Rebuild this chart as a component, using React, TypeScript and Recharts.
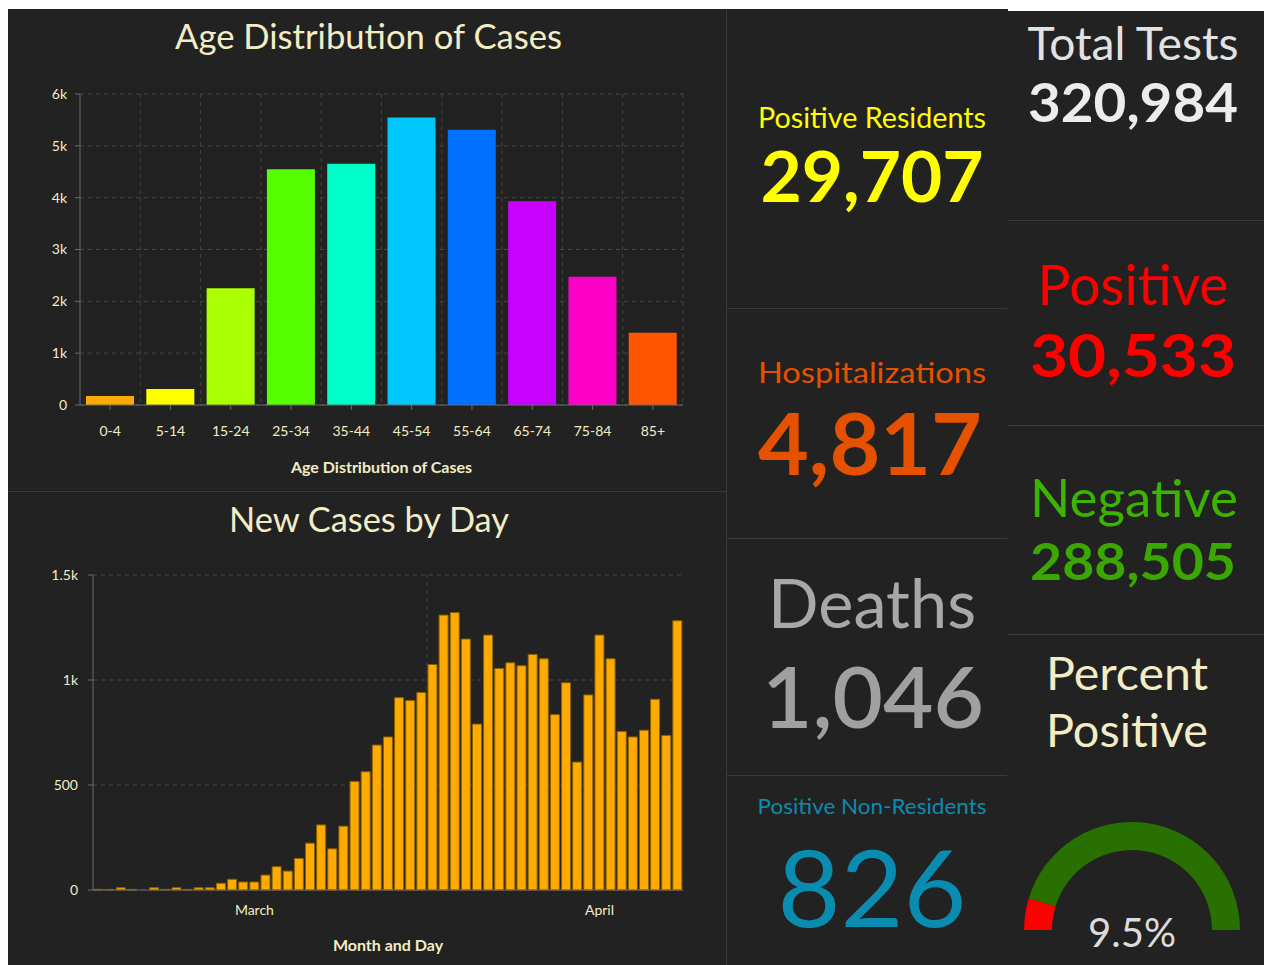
import React from 'react';
import { BarChart, Bar, XAxis, YAxis, CartesianGrid, Cell, ReferenceLine, PieChart, Pie } from 'recharts';

const CREAM = '#f3edc5';
const GRID = '#454545';
const AXIS = '#6a6a6a';
const PANEL = '#222222';
const LINE = '#3a3a3a';
const FONT = 'Lato, "Noto Sans", sans-serif';

const ageGroups = ['0-4', '5-14', '15-24', '25-34', '35-44', '45-54', '55-64', '65-74', '75-84', '85+'];
const ageCases = [173, 308, 2254, 4547, 4656, 5549, 5311, 3931, 2473, 1394];
const ageColors = ['#ffaa00', '#ffff00', '#aaff00', '#55ff00', '#00ffc8', '#00c8ff', '#0070ff', '#c800ff', '#ff00c8', '#ff5500'];
const ageTicks = [0, 1000, 2000, 3000, 4000, 5000, 6000];

const days = [
  '3/2', '3/3', '3/4', '3/5', '3/6', '3/7', '3/8', '3/9', '3/10', '3/11', '3/12', '3/13', '3/14', '3/15', '3/16',
  '3/17', '3/18', '3/19', '3/20', '3/21', '3/22', '3/23', '3/24', '3/25', '3/26', '3/27', '3/28', '3/29', '3/30', '3/31',
  '4/1', '4/2', '4/3', '4/4', '4/5', '4/6', '4/7', '4/8', '4/9', '4/10', '4/11', '4/12', '4/13', '4/14', '4/15',
  '4/16', '4/17', '4/18', '4/19', '4/20', '4/21', '4/22', '4/23',
];
const newCases = [
  3, 2, 11, 3, 0, 11, 3, 11, 3, 11, 11, 32, 51, 38, 38, 71, 111, 90, 150, 223,
  310, 196, 304, 517, 563, 690, 729, 916, 902, 941, 1074, 1309, 1321, 1195, 790, 1214, 1055, 1082, 1068, 1122,
  1101, 835, 987, 609, 929, 1214, 1101, 755, 729, 761, 908, 736, 1282,
];
const caseTicks = [0, 500, 1000, 1500];
const monthLabels: Record<string, string> = { '3/16': 'March', '4/16': 'April' };
const monthStart = '4/1';

const totalTests = 320984;
const positiveTests = 30533;
const negativeTests = 288505;
const positiveResidents = 29707;
const hospitalizations = 4817;
const deaths = 1046;
const positiveNonResidents = 826;
const percentPositive = 9.5;

const ageData = ageGroups.map((group, i) => ({ group, cases: ageCases[i] }));
const dailyData = days.map((day, i) => ({ day, cases: newCases[i] }));
const gaugeData = [
  { name: 'Positive', value: percentPositive },
  { name: 'Other', value: 100 - percentPositive },
];
const gaugeColors = ['#ff0000', '#287000'];

const fmt = (n: number) => n.toLocaleString('en-US');
const kFormat = (v: number) => (v >= 1000 ? `${v / 1000}k` : `${v}`);

const tickStyle = { fill: CREAM, fontSize: 14, fontFamily: FONT };

function MonthTick({ x, y, payload }: any) {
  const label = monthLabels[payload.value];
  if (!label) return <g />;
  return (
    <text x={x} y={y} dy="0.71em" textAnchor="middle" fill={CREAM} fontSize={14} fontFamily={FONT}>
      {label}
    </text>
  );
}

function T({ x, y, size, color, width, weight = 400, children }: any) {
  return (
    <text
      x={x}
      y={y}
      fontSize={size}
      fill={color}
      fontWeight={weight}
      fontFamily={FONT}
      textAnchor="middle"
      textLength={width}
      lengthAdjust="spacingAndGlyphs"
    >
      {children}
    </text>
  );
}

export default function App() {
  return (
    <div style={{ position: 'fixed', top: 9, left: 8, width: 1256, height: 956, background: PANEL, overflow: 'hidden' }}>
      {/* age distribution */}
      <div style={{ position: 'absolute', left: 0, top: 0 }}>
        <BarChart width={718} height={482} data={ageData} margin={{ top: 85, right: 43, bottom: 56, left: 22 }} barCategoryGap="10%">
          <CartesianGrid
            stroke={GRID}
            strokeDasharray="4 4"
            verticalCoordinatesGenerator={({ offset }: any) =>
              ageGroups.map((_, i) => offset.left + ((i + 1) * offset.width) / ageGroups.length)
            }
          />
          <XAxis
            dataKey="group"
            height={30}
            stroke={AXIS}
            tickSize={5}
            tickMargin={16}
            tick={tickStyle}
            label={{ value: 'Age Distribution of Cases', position: 'bottom', offset: 27, fill: CREAM, fontSize: 16, fontWeight: 700, fontFamily: FONT }}
          />
          <YAxis
            width={50}
            domain={[0, 6000]}
            ticks={ageTicks}
            stroke={AXIS}
            tickSize={5}
            tickMargin={8}
            tick={tickStyle}
            tickFormatter={kFormat}
          />
          <Bar dataKey="cases" isAnimationActive={false}>
            {ageData.map((_, i) => (
              <Cell key={i} fill={ageColors[i]} />
            ))}
          </Bar>
        </BarChart>
      </div>

      {/* new cases by day */}
      <div style={{ position: 'absolute', left: 0, top: 483 }}>
        <BarChart width={718} height={473} data={dailyData} margin={{ top: 83, right: 43, bottom: 45, left: 25 }} barCategoryGap={1}>
          <CartesianGrid stroke={GRID} strokeDasharray="4 4" vertical={false} />
          <ReferenceLine x={monthStart} position="start" stroke={GRID} strokeDasharray="4 4" />
          <XAxis
            dataKey="day"
            height={30}
            stroke={AXIS}
            interval={0}
            tickLine={false}
            tickSize={6}
            tickMargin={9}
            tick={<MonthTick />}
            label={{ value: 'Month and Day', position: 'bottom', offset: 20, fill: CREAM, fontSize: 16, fontWeight: 700, fontFamily: FONT }}
          />
          <YAxis
            width={60}
            domain={[0, 1500]}
            ticks={caseTicks}
            stroke={AXIS}
            tickSize={5}
            tickMargin={10}
            tick={tickStyle}
            tickFormatter={kFormat}
          />
          <Bar dataKey="cases" fill="#ffaa00" stroke="#8a6200" strokeWidth={1} isAnimationActive={false} />
        </BarChart>
      </div>

      {/* gauge */}
      <div style={{ position: 'absolute', left: 1000, top: 800 }}>
        <PieChart width={256} height={140}>
          <Pie
            data={gaugeData}
            dataKey="value"
            cx={119}
            cy={116}
            startAngle={180}
            endAngle={0}
            innerRadius={80}
            outerRadius={108}
            stroke="none"
            isAnimationActive={false}
          >
            {gaugeData.map((_, i) => (
              <Cell key={i} fill={gaugeColors[i]} />
            ))}
          </Pie>
        </PieChart>
      </div>

      {/* separators and text */}
      <svg width={1256} height={956} style={{ position: 'absolute', left: 0, top: 0, pointerEvents: 'none' }}>
        <rect x={1000} y={0} width={256} height={2} fill="#ffffff" />
        <line x1={0} x2={718} y1={482.5} y2={482.5} stroke={LINE} />
        <line x1={718.5} x2={718.5} y1={0} y2={956} stroke={LINE} />
        <line x1={719} x2={999} y1={299.5} y2={299.5} stroke={LINE} />
        <line x1={719} x2={999} y1={529.5} y2={529.5} stroke={LINE} />
        <line x1={719} x2={999} y1={766.5} y2={766.5} stroke={LINE} />
        <line x1={1000} x2={1256} y1={211.5} y2={211.5} stroke={LINE} />
        <line x1={1000} x2={1256} y1={416.5} y2={416.5} stroke={LINE} />
        <line x1={1000} x2={1256} y1={625.5} y2={625.5} stroke={LINE} />

        <T x={360.5} y={40} size={34} color={CREAM} width={387}>Age Distribution of Cases</T>
        <T x={361} y={523} size={34} color={CREAM} width={280}>New Cases by Day</T>

        <T x={864} y={119} size={29} color="#ffff00" width={228}>Positive Residents</T>
        <T x={864} y={193} size={70} color="#ffff00" width={223} weight={700}>{fmt(positiveResidents)}</T>
        <T x={864} y={374} size={29} color="#e65100" width={228}>Hospitalizations</T>
        <T x={862} y={466} size={86} color="#e65100" width={224} weight={700}>{fmt(hospitalizations)}</T>
        <T x={864} y={619} size={67} color="#a8a8a8" width={208}>Deaths</T>
        <T x={865} y={719} size={84} color="#a0a0a0" width={222} weight={600}>{fmt(deaths)}</T>
        <T x={864} y={805} size={21} color="#0a8cb0" width={229}>Positive Non-Residents</T>
        <T x={864} y={918} size={106} color="#0a8cb0" width={189}>{fmt(positiveNonResidents)}</T>

        <T x={1125} y={51} size={46} color="#e2e2e2" width={211}>Total Tests</T>
        <T x={1125} y={113} size={54} color="#ececec" width={210} weight={700}>{fmt(totalTests)}</T>
        <T x={1125} y={296} size={56} color="#ff0000" width={191}>Positive</T>
        <T x={1125} y={368} size={59} color="#ff0000" width={206} weight={700}>{fmt(positiveTests)}</T>
        <T x={1126} y={508} size={52} color="#3bb300" width={208}>Negative</T>
        <T x={1125} y={571} size={52} color="#3aa800" width={206} weight={700}>{fmt(negativeTests)}</T>
        <T x={1119} y={681} size={46} color={CREAM} width={162}>Percent</T>
        <T x={1119} y={738} size={46} color={CREAM} width={162}>Positive</T>
        <T x={1124} y={938} size={40} color="#dcdcdc" width={88}>{`${percentPositive}%`}</T>
      </svg>
    </div>
  );
}
